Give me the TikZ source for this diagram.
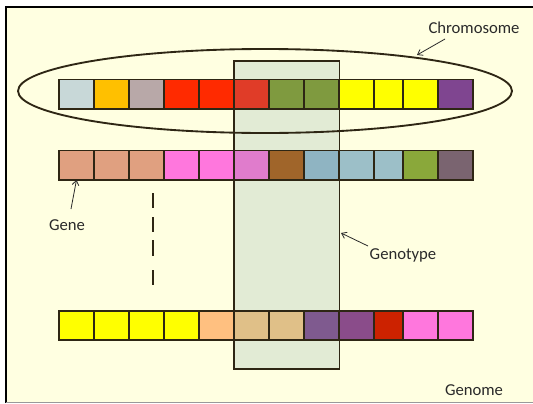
\documentclass[tikz,border=0pt]{standalone}
\usepackage{fontspec}
\setmainfont{Carlito}
\usetikzlibrary{arrows.meta}
\definecolor{bg}{HTML}{FFFFE1}
\definecolor{gt}{HTML}{E2EBD5}
\definecolor{edge}{HTML}{2E2614}
\definecolor{txt}{HTML}{2A2A2A}
\begin{document}
\begin{tikzpicture}[x=0.75pt,y=-0.75pt,
  cell/.style={rectangle,draw=edge,line width=1.3pt,inner sep=0pt,outer sep=0pt,anchor=north west,minimum height=22pt},
  lbl/.style={font=\fontsize{12.5}{14}\selectfont,text=txt,inner sep=1pt},
  pointer/.style={draw=txt,line width=0.6pt,-{Straight Barb[length=3.5pt,width=5pt]}},
  dashseg/.style={line width=1.2pt,draw=edge}]
\useasboundingbox (0,0) rectangle (533,404);
\fill[white] (0,0) rectangle (533,404);
\fill[bg] (6,7) rectangle (533,403);
\draw[line width=1.6pt,black] (6,403) -- (6,7) -- (533,7);
\draw[line width=1.2pt,black!40] (6,402.5) -- (533,402.5);
% genotype rectangle fill
\fill[gt] (234.3,61) rectangle (339.5,369);
% ellipse
\draw[line width=1.4pt,edge] (265,91) ellipse [x radius=247,y radius=42];
% top row
\foreach \x/\w/\col [count=\i] in {59/35/C8D8D8,94/35/FFC000,129/35/B8A8A8,164/35/FF2A00,199/35/FF2A00,234/35/E03C28,269/35/7F9A3F,304/35/7F9A3F,339/35/FFFF00,374/29/FFFF00,403/35/FFFF00,438/35/7F4590}{
  \definecolor{cc}{HTML}{\col}
  \node[cell,fill=cc,minimum width=\w*0.75pt] (t\i) at (\x,79.5) {};
}
% middle row
\foreach \x/\w/\col [count=\i] in {59/35/E0A080,94/35/E0A080,129/35/E0A080,164/35/FF77DD,199/35/FF77DD,234/35/E07CCC,269/35/A0652A,304/35/8FB4C2,339/35/9CBFC8,374/29/9CBFC8,403/35/8AA83A,438/35/7A6470}{
  \definecolor{cc}{HTML}{\col}
  \node[cell,fill=cc,minimum width=\w*0.75pt] (m\i) at (\x,150.5) {};
}
% bottom row
\foreach \x/\w/\col [count=\i] in {59/35/FFFF00,94/35/FFFF00,129/35/FFFF00,164/35/FFFF00,199/35/FFC080,234/35/E0C088,269/35/E0C088,304/35/7F5A8F,339/35/8A4C8A,374/29/CC2200,403/35/FF77DD,438/35/FF77DD}{
  \definecolor{cc}{HTML}{\col}
  \node[cell,fill=cc,minimum width=\w*0.75pt] (b\i) at (\x,311) {};
}
% genotype rectangle border
\draw[line width=1.4pt,edge] (234.3,61) rectangle (339.5,369);
% dashed line
\draw[dashseg] (153,193) -- (153,208) (153,217) -- (153,232) (153,240) -- (153,256) (153,270) -- (153,285);
% labels
\node[lbl] (chrom) at (474,28) {Chromosome};
\node[lbl] (gene) at (67,225) {Gene};
\node[lbl] (genotype) at (403,255) {Genotype};
\node[lbl] (genome) at (474,390) {Genome};
\coordinate (chromtip) at (417,55);
\coordinate (chromstart) at (445,39);
\coordinate (genestart) at (71,209);
\coordinate (genotypetip) at (341,233);
\coordinate (genotypestart) at (368,246);
\draw[pointer] (chromstart) -- (chromtip);
\draw[pointer] (genestart) -- (m1.south);
\draw[pointer] (genotypestart) -- (genotypetip);
\end{tikzpicture}
\end{document}
